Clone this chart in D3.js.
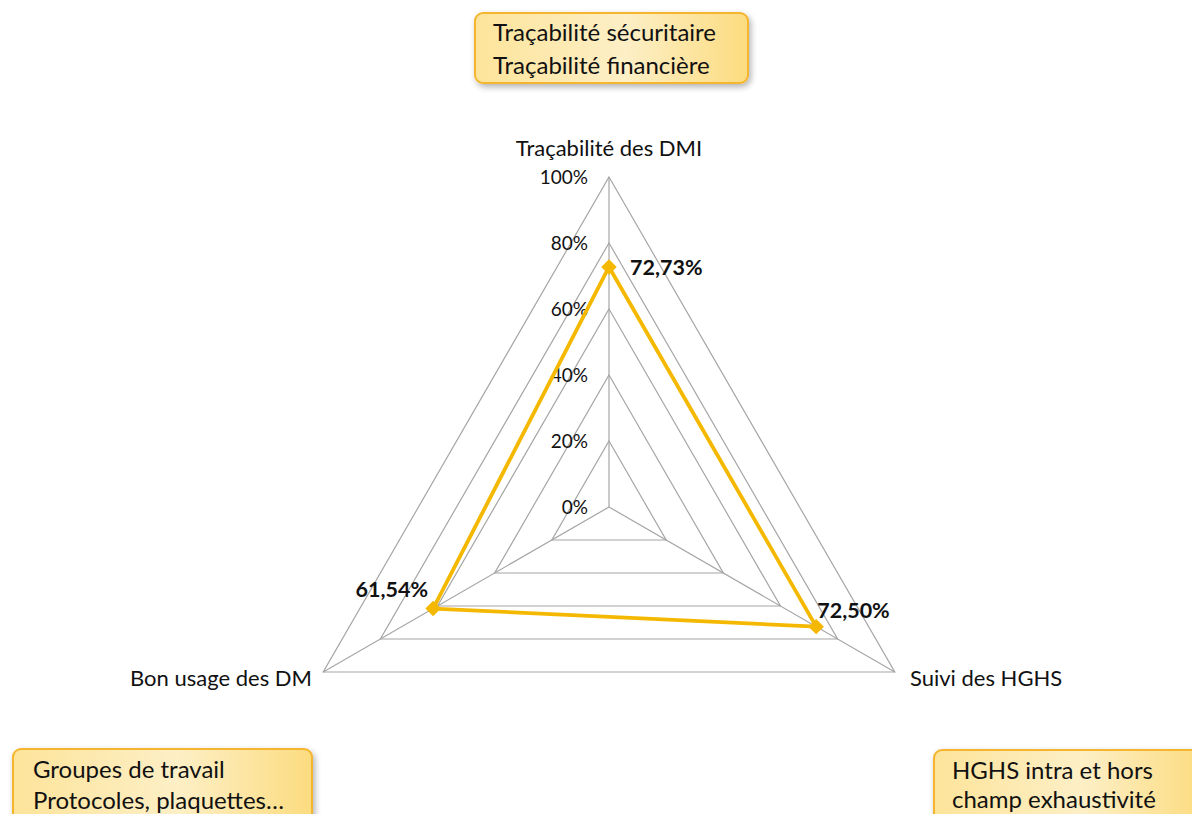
<!DOCTYPE html>
<html><head><meta charset="utf-8">
<script src="https://cdn.jsdelivr.net/npm/d3@7"></script>
<style>
body{margin:0;background:#fff;}
svg{display:block;font-family:Lato,"Open Sans",sans-serif;}
</style></head>
<body>
<svg id="c" width="1192" height="814"></svg>
<script>
const categories = ["Traçabilité des DMI", "Suivi des HGHS", "Bon usage des DM"];
const values = [0.7273, 0.7250, 0.6154];
const valueLabels = ["72,73%", "72,50%", "61,54%"];
const ticks = [0, 0.2, 0.4, 0.6, 0.8, 1.0];
const tickLabels = ["0%", "20%", "40%", "60%", "80%", "100%"];
const boxTexts = [
  ["Traçabilité sécuritaire", "Traçabilité financière"],
  ["Groupes de travail", "Protocoles, plaquettes…"],
  ["HGHS intra et hors", "champ exhaustivité"]
];

const svg = d3.select("#c");
const cx = 609, cy = 507, R = 330;
const r = d3.scaleLinear().domain([0, 1]).range([0, R]);
const angleOf = (i) => (i * 2 * Math.PI / categories.length);
const pt = (i, v) => [cx + r(v) * Math.sin(angleOf(i)), cy - r(v) * Math.cos(angleOf(i))];

// defs: gradient + shadow
const defs = svg.append("defs");
const g = defs.append("linearGradient").attr("id","bg").attr("x1",0).attr("y1",0).attr("x2",1).attr("y2",0);
g.append("stop").attr("offset","0%").attr("stop-color","#fde49a");
g.append("stop").attr("offset","55%").attr("stop-color","#fdefc6");
g.append("stop").attr("offset","100%").attr("stop-color","#fcdc80");
const f = defs.append("filter").attr("id","sh").attr("x","-10%").attr("y","-20%").attr("width","130%").attr("height","160%");
f.append("feDropShadow").attr("dx",2).attr("dy",3).attr("stdDeviation",3).attr("flood-color","#000").attr("flood-opacity",0.3);

// grid rings
const grid = svg.append("g");
ticks.forEach(t => {
  if (t === 0) return;
  grid.append("path")
    .attr("d", d3.line()(categories.map((c,i)=>pt(i,t))) + "Z")
    .attr("fill","none").attr("stroke","#a6a6a6").attr("stroke-width",1.2);
});
categories.forEach((c,i) => {
  const p = pt(i,1);
  grid.append("line").attr("x1",cx).attr("y1",cy).attr("x2",p[0]).attr("y2",p[1])
    .attr("stroke","#a6a6a6").attr("stroke-width",1.2);
});

// tick labels
svg.append("g").selectAll("text").data(ticks).join("text")
  .attr("x", 588).attr("y", d => cy - r(d) + 7)
  .attr("text-anchor","end").attr("font-size",19).attr("fill","#111")
  .text((d,i) => tickLabels[i]);

// category labels
const catPos = [
  {x: 609, y: 156, a: "middle"},
  {x: 910, y: 686, a: "start"},
  {x: 312, y: 686, a: "end"}
];
svg.append("g").selectAll("text").data(categories).join("text")
  .attr("x",(d,i)=>catPos[i].x).attr("y",(d,i)=>catPos[i].y)
  .attr("text-anchor",(d,i)=>catPos[i].a)
  .attr("font-size",22).attr("fill","#111").text(d=>d);

// data polygon
const pts = values.map((v,i)=>pt(i,v));
svg.append("path").attr("d", d3.line()(pts) + "Z")
  .attr("fill","none").attr("stroke","#f5b800").attr("stroke-width",3.8).attr("stroke-linejoin","round");
svg.append("g").selectAll("path").data(pts).join("path")
  .attr("d", d3.symbol(d3.symbolSquare, 120)())
  .attr("transform", d => `translate(${d[0]},${d[1]}) rotate(45)`)
  .attr("fill","#f5b800");

// value labels
const vOff = [{dx: 21, dy: 8, a:"start"}, {dx: 1, dy: -9, a:"start"}, {dx: -5, dy: -12, a:"end"}];
svg.append("g").selectAll("text").data(values).join("text")
  .attr("x",(d,i)=>pts[i][0]+vOff[i].dx).attr("y",(d,i)=>pts[i][1]+vOff[i].dy)
  .attr("text-anchor",(d,i)=>vOff[i].a)
  .attr("font-size",21.5).attr("font-weight","bold").attr("fill","#111")
  .text((d,i)=>valueLabels[i]);

// annotation boxes
const boxes = [
  {x: 475, y: 13, w: 273, h: 70, tx: 493, ty: [41, 74]},
  {x: 13, y: 749, w: 299, h: 80, tx: 33, ty: [778, 809]},
  {x: 934, y: 750, w: 270, h: 80, tx: 952, ty: [779, 808]}
];
boxes.forEach((b,i) => {
  svg.append("rect").attr("x",b.x).attr("y",b.y).attr("width",b.w).attr("height",b.h)
    .attr("rx",8).attr("fill","url(#bg)").attr("stroke","#f5b52e").attr("stroke-width",2)
    .attr("filter","url(#sh)");
  boxTexts[i].forEach((t,j) => {
    svg.append("text").attr("x",b.tx).attr("y",b.ty[j]).attr("font-size",24).attr("fill","#111").text(t);
  });
});
</script>
</body></html>
